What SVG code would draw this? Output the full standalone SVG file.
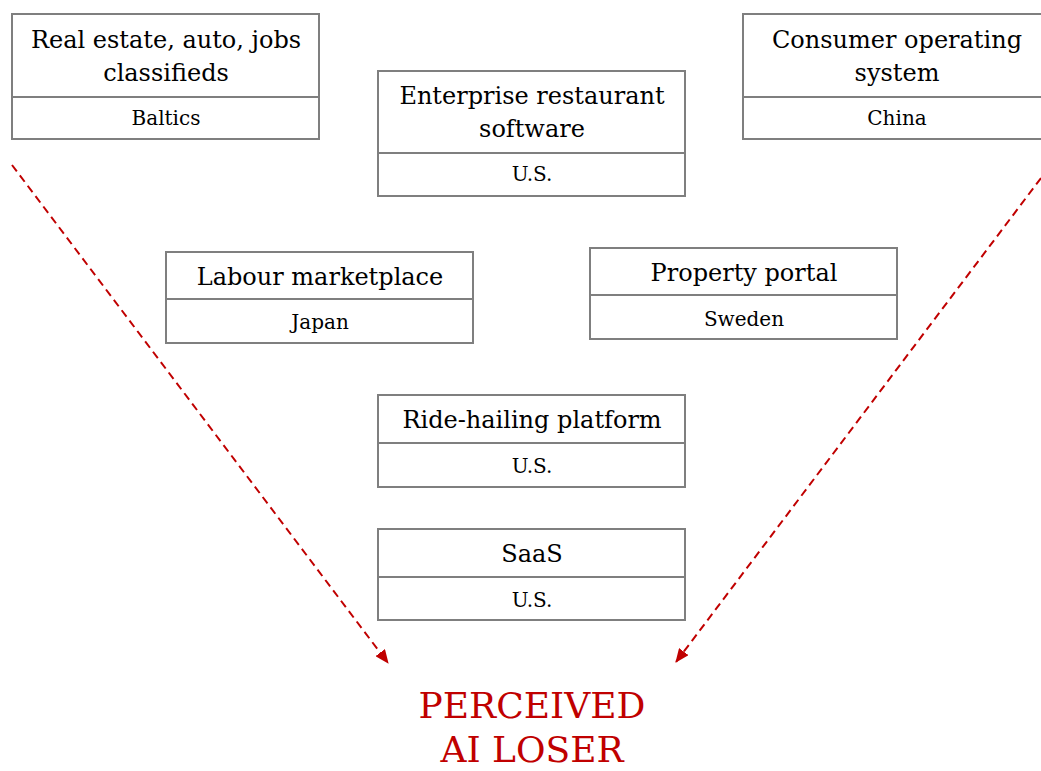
<svg xmlns="http://www.w3.org/2000/svg" width="1041" height="771" viewBox="0 0 1041 771">
<defs>
<style>
.box{fill:#fff;stroke:#7f7f7f;stroke-width:2}
.div{stroke:#7f7f7f;stroke-width:2}
.t{font-family:Georgia,"DejaVu Serif",serif;font-size:24px;fill:#000;text-anchor:middle}
.s{font-family:Georgia,"DejaVu Serif",serif;font-size:20px;fill:#000;text-anchor:middle}
.red{font-family:Georgia,"DejaVu Serif",serif;font-size:36px;fill:#c00000;text-anchor:middle}
.con{stroke:#c00000;stroke-width:2;stroke-dasharray:8 5;fill:none}
</style>
<marker id="ah" markerWidth="14" markerHeight="12" viewBox="0 0 14 12" refX="13" refY="6" orient="auto" markerUnits="userSpaceOnUse">
<path d="M0,0 L14,6 L0,12 Z" fill="#c00000"/>
</marker>
</defs>
<rect width="1041" height="771" fill="#fff"/>
<g id="connectors">
<line class="con" x1="12" y1="165" x2="388" y2="663" marker-end="url(#ah)"/>
<line class="con" x1="1041" y1="178" x2="676" y2="662" marker-end="url(#ah)"/>
</g>
<g id="node-classifieds">
<rect class="box" x="12" y="14" width="307" height="125"/>
<line class="div" x1="12" y1="97" x2="319" y2="97"/>
<text class="t" x="166" y="48">Real estate, auto, jobs</text>
<text class="t" x="166" y="81">classifieds</text>
<text class="s" x="166" y="125">Baltics</text>
</g>
<g id="node-restaurant">
<rect class="box" x="378" y="71" width="307" height="125"/>
<line class="div" x1="378" y1="153" x2="685" y2="153"/>
<text class="t" x="532" y="104">Enterprise restaurant</text>
<text class="t" x="532" y="137">software</text>
<text class="s" x="532" y="181">U.S.</text>
</g>
<g id="node-os">
<rect class="box" x="743" y="14" width="307" height="125"/>
<line class="div" x1="743" y1="97" x2="1050" y2="97"/>
<text class="t" x="897" y="48">Consumer operating</text>
<text class="t" x="897" y="81">system</text>
<text class="s" x="897" y="125">China</text>
</g>
<g id="node-labour">
<rect class="box" x="166" y="252" width="307" height="91"/>
<line class="div" x1="166" y1="299" x2="473" y2="299"/>
<text class="t" x="320" y="285">Labour marketplace</text>
<text class="s" x="320" y="329">Japan</text>
</g>
<g id="node-property">
<rect class="box" x="590" y="248" width="307" height="91"/>
<line class="div" x1="590" y1="295" x2="897" y2="295"/>
<text class="t" x="744" y="281">Property portal</text>
<text class="s" x="744" y="326">Sweden</text>
</g>
<g id="node-ride">
<rect class="box" x="378" y="395" width="307" height="92"/>
<line class="div" x1="378" y1="443" x2="685" y2="443"/>
<text class="t" x="532" y="428">Ride-hailing platform</text>
<text class="s" x="532" y="473">U.S.</text>
</g>
<g id="node-saas">
<rect class="box" x="378" y="529" width="307" height="91"/>
<line class="div" x1="378" y1="577" x2="685" y2="577"/>
<text class="t" x="532" y="562">SaaS</text>
<text class="s" x="532" y="607">U.S.</text>
</g>
<g id="label-loser">
<text class="red" x="532" y="718">PERCEIVED</text>
<text class="red" x="532" y="762">AI LOSER</text>
</g>
</svg>
